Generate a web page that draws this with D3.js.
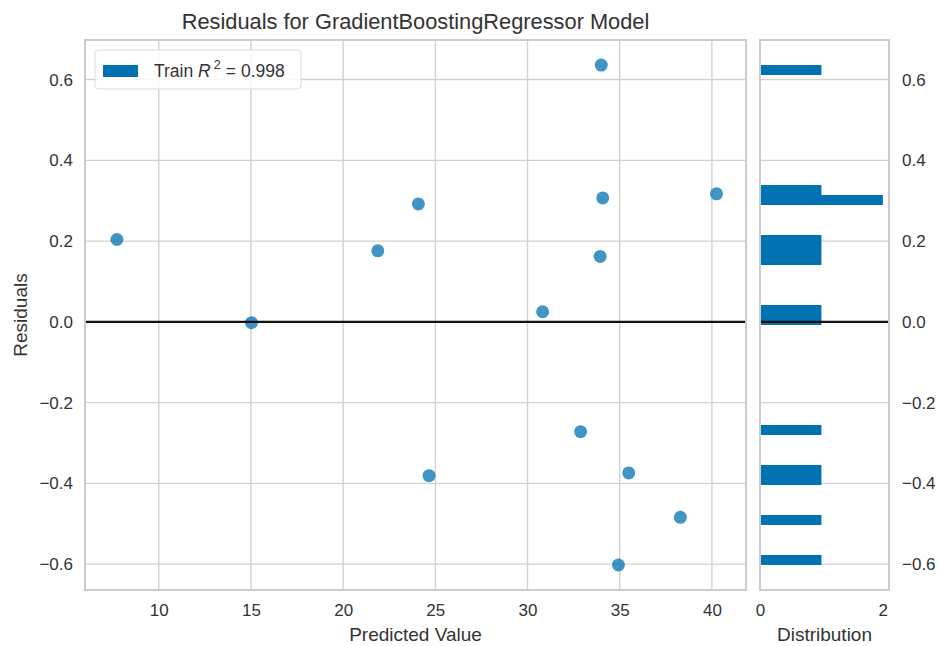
<!DOCTYPE html>
<html lang="en">
<head>
<meta charset="UTF-8">
<title>Residuals for GradientBoostingRegressor Model</title>
<style>
  body { margin: 0; background: #fff; }
  svg { display: block; font-family: "Liberation Sans", Arial, sans-serif; }
  .tick text { fill: #333; font-size: 17px; }
  .grid line { stroke: #d2d2d2; stroke-width: 1.4; }
  .label { fill: #333; font-size: 19px; }
</style>
</head>
<body>
<svg width="938" height="646"></svg>
<script src="https://d3js.org/d3.v7.min.js"></script>
<script>
  // values
  const predicted = [7.73, 15.03, 21.88, 24.08, 24.66, 30.82, 32.88, 33.94, 34.0, 34.08, 34.93, 35.49, 38.29, 40.25];
  const residuals = [0.204, -0.002, 0.176, 0.292, -0.381, 0.025, -0.272, 0.162, 0.636, 0.307, -0.602, -0.374, -0.484, 0.317];
  const xTicks = [10, 15, 20, 25, 30, 35, 40];
  const yTicks = [-0.6, -0.4, -0.2, 0.0, 0.2, 0.4, 0.6];
  const histTicks = [0, 2];
  const r2 = 0.998;
  const nBins = 50;

  const svg = d3.select("svg");
  const blue = "#0072B2";

  // panel boxes
  const main = { left: 85, right: 746, top: 40, bottom: 590 };
  const side = { left: 760, right: 889 };

  const x = d3.scaleLinear().domain([6.0, 41.85]).range([main.left, main.right]);
  const y = d3.scaleLinear().domain([-0.664, 0.698]).range([main.bottom, main.top]);
  const hx = d3.scaleLinear().domain([0, 2.1]).range([side.left, side.right]);

  // grid, main panel
  const grid = svg.append("g").attr("class", "grid");
  grid.selectAll(".vx").data(xTicks).join("line")
    .attr("x1", d => x(d)).attr("x2", d => x(d))
    .attr("y1", main.top).attr("y2", main.bottom);
  grid.selectAll(".hy").data(yTicks).join("line")
    .attr("x1", main.left).attr("x2", main.right)
    .attr("y1", d => y(d)).attr("y2", d => y(d));
  // grid, histogram panel (horizontal only)
  grid.append("g").selectAll("line").data(yTicks).join("line")
    .attr("x1", side.left).attr("x2", side.right)
    .attr("y1", d => y(d)).attr("y2", d => y(d));

  // scatter
  svg.append("g").selectAll("circle")
    .data(predicted.map((p, i) => [p, residuals[i]]))
    .join("circle")
    .attr("cx", d => x(d[0]))
    .attr("cy", d => y(d[1]))
    .attr("r", 6.5)
    .attr("fill", blue)
    .attr("fill-opacity", 0.75);

  // histogram of residuals, 50 equal bins between min and max
  const rMin = d3.min(residuals), rMax = d3.max(residuals);
  const w = (rMax - rMin) / nBins;
  const bins = d3.bin()
    .domain([rMin, rMax])
    .thresholds(d3.range(1, nBins).map(i => rMin + i * w))(residuals);

  svg.append("g").selectAll("rect")
    .data(bins.filter(b => b.length > 0))
    .join("rect")
    .attr("x", hx(0))
    .attr("y", d => y(d.x1))
    .attr("width", d => hx(d.length) - hx(0))
    .attr("height", d => y(d.x0) - y(d.x1))
    .attr("fill", blue);

  // zero lines
  svg.append("line")
    .attr("x1", main.left).attr("x2", main.right)
    .attr("y1", y(0)).attr("y2", y(0))
    .attr("stroke", "#111").attr("stroke-width", 2.4);
  svg.append("line")
    .attr("x1", side.left).attr("x2", side.right)
    .attr("y1", y(0)).attr("y2", y(0))
    .attr("stroke", "#111").attr("stroke-width", 2.4);

  // frames
  svg.append("rect")
    .attr("x", main.left).attr("y", main.top)
    .attr("width", main.right - main.left).attr("height", main.bottom - main.top)
    .attr("fill", "none").attr("stroke", "#cccccc").attr("stroke-width", 2);
  svg.append("rect")
    .attr("x", side.left).attr("y", main.top)
    .attr("width", side.right - side.left).attr("height", main.bottom - main.top)
    .attr("fill", "none").attr("stroke", "#cccccc").attr("stroke-width", 2);

  // axes (labels only, no tick marks)
  const fmt = d => d3.format(".1f")(d).replace("-", "\u2212");
  svg.append("g")
    .attr("transform", `translate(0,${main.bottom})`)
    .call(d3.axisBottom(x).tickValues(xTicks).tickSize(0).tickPadding(14))
    .call(g => g.select(".domain").remove());
  svg.append("g")
    .attr("transform", `translate(${main.left},0)`)
    .call(d3.axisLeft(y).tickValues(yTicks).tickFormat(fmt).tickSize(0).tickPadding(12))
    .call(g => g.select(".domain").remove());
  svg.append("g")
    .attr("transform", `translate(0,${main.bottom})`)
    .call(d3.axisBottom(hx).tickValues(histTicks).tickFormat(d3.format("d")).tickSize(0).tickPadding(14))
    .call(g => g.select(".domain").remove());
  svg.append("g")
    .attr("transform", `translate(${side.right},0)`)
    .call(d3.axisRight(y).tickValues(yTicks).tickFormat(fmt).tickSize(0).tickPadding(13))
    .call(g => g.select(".domain").remove());
  svg.selectAll(".tick text").attr("font-family", null).attr("font-size", null);

  // axis titles
  svg.append("text").attr("class", "label")
    .attr("x", (main.left + main.right) / 2).attr("y", 641)
    .attr("text-anchor", "middle").text("Predicted Value");
  svg.append("text").attr("class", "label")
    .attr("x", (side.left + side.right) / 2).attr("y", 641)
    .attr("text-anchor", "middle").text("Distribution");
  svg.append("text").attr("class", "label")
    .attr("transform", `translate(27,${(main.top + main.bottom) / 2}) rotate(-90)`)
    .attr("text-anchor", "middle").text("Residuals");

  // title
  svg.append("text")
    .attr("x", (main.left + main.right) / 2).attr("y", 29)
    .attr("text-anchor", "middle")
    .attr("fill", "#333").attr("font-size", 21.8)
    .text("Residuals for GradientBoostingRegressor Model");

  // legend
  const lg = svg.append("g");
  lg.append("rect")
    .attr("x", 95).attr("y", 50).attr("width", 206).attr("height", 39)
    .attr("rx", 4)
    .attr("fill", "#fff").attr("fill-opacity", 0.85)
    .attr("stroke", "#dddddd").attr("stroke-width", 1);
  lg.append("rect")
    .attr("x", 103).attr("y", 65).attr("width", 35).attr("height", 12)
    .attr("fill", blue);
  const lt = lg.append("text")
    .attr("x", 154).attr("y", 77)
    .attr("fill", "#333").attr("font-size", 17.5);
  lt.append("tspan").text("Train ");
  lt.append("tspan").attr("font-style", "italic").text("R");
  lt.append("tspan").attr("font-size", 12.5).attr("dy", -8).attr("dx", 3).text("2");
  lt.append("tspan").attr("dy", 8).attr("dx", 5).text("=");
  lt.append("tspan").attr("dx", 5).text(r2.toFixed(3));
</script>
</body>
</html>
